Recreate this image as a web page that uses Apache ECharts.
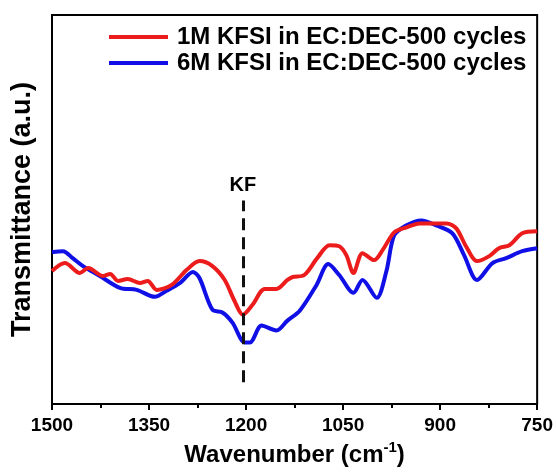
<!DOCTYPE html>
<html>
<head>
<meta charset="utf-8">
<script src="https://cdn.jsdelivr.net/npm/echarts@6/dist/echarts.min.js"></script>
<style>
html,body{margin:0;padding:0;background:#fff;}
#chart{width:556px;height:475px;}
</style>
</head>
<body>
<div id="chart"></div>
<script>
// Wavenumber (cm^-1) and transmittance (a.u.)
var seriesNames = ['1M KFSI in EC:DEC-500 cycles', '6M KFSI in EC:DEC-500 cycles'];
var xTicks = [1500, 1350, 1200, 1050, 900, 750];
var kfPosition = 1205;
var kfRange = [22, 205];

var wnRed = [1500,1480,1457,1444,1421,1410,1398,1383,1364,1352,1338,1315,1292,1272,1252,1233,1218,1205,1190,1171,1153,1136,1128,1110,1090,1071,1056,1045,1034,1020,1002,989,971,952,932,912,890,875,860,843,824,809,793,773,750];
var tRed  = [134,142,132,137,129,131,124,126,122,124,115,120,135,144,139,125,104,90,100,116,116,125,128,130,147,160,159,150,132,152,145,155,173,178,182,182,182,177,159,144,149,157,160,172,174];

var wnBlue = [1500,1483,1468,1452,1426,1395,1369,1341,1323,1302,1282,1272,1252,1236,1221,1202,1194,1176,1153,1136,1117,1091,1073,1056,1034,1020,998,983,971,952,929,906,881,863,843,819,798,773,750];
var tBlue  = [153,154,147,139,129,117,115,108,114,122,133,127,95,92,82,62,62,79,74,84,94,120,141,130,112,125,107,134,170,180,185,180,172,150,125,142,147,154,157];

function zip(a, b) { return a.map(function (v, i) { return [v, b[i]]; }); }

var FONT = '"Liberation Sans", Arial, sans-serif';
var chart = echarts.init(document.getElementById('chart'), null, {renderer: 'canvas'});
chart.setOption({
  animation: false,
  backgroundColor: '#fff',
  grid: {left: 52, right: 18, top: 15, bottom: 68, show: true, borderColor: '#000', borderWidth: 2, backgroundColor: 'transparent'},
  legend: {
    orient: 'vertical', left: 109, top: 24, itemGap: 0, padding: 0,
    itemWidth: 59, itemHeight: 4, icon: 'rect',
    data: seriesNames,
    textStyle: {fontFamily: FONT, fontWeight: 'bold', fontSize: 24, color: '#000', lineHeight: 26, padding: [0, 0, 0, 4]}
  },
  xAxis: {
    type: 'value', inverse: true, min: 750, max: 1500, interval: 150,
    axisLine: {show: true, lineStyle: {color: '#000', width: 2}},
    axisTick: {show: true, length: 6, lineStyle: {color: '#000', width: 2}},
    minorTick: {show: true, splitNumber: 2, length: 4, lineStyle: {color: '#000', width: 2}},
    splitLine: {show: false}, minorSplitLine: {show: false},
    axisLabel: {fontFamily: FONT, fontWeight: 'bold', fontSize: 19, color: '#000', margin: 12,
      formatter: function (v) { return xTicks.indexOf(v) >= 0 ? String(v) : ''; }},
    name: 'Wavenumber (cm{sup|-1})', nameLocation: 'middle', nameGap: 36,
    nameTextStyle: {fontFamily: FONT, fontWeight: 'bold', fontSize: 24, color: '#000', lineHeight: 30,
      rich: {sup: {fontFamily: FONT, fontWeight: 'bold', fontSize: 15, color: '#000', lineHeight: 15, padding: [0, 0, 14, 0]}}}
  },
  yAxis: {
    type: 'value', min: 0, max: 392,
    axisLine: {show: true, lineStyle: {color: '#000', width: 2}},
    axisTick: {show: false}, axisLabel: {show: false}, splitLine: {show: false},
    name: 'Transmittance (a.u.)', nameLocation: 'middle', nameGap: 16,
    nameTextStyle: {fontFamily: FONT, fontWeight: 'bold', fontSize: 27, color: '#000'}
  },
  series: [
    {
      name: seriesNames[0], type: 'line', data: zip(wnRed, tRed), showSymbol: false, smooth: 0.3,
      lineStyle: {color: '#ec1c1c', width: 4}, itemStyle: {color: '#ec1c1c'}, z: 3,
      markLine: {
        silent: true, symbol: ['none', 'none'],
        lineStyle: {color: '#111', width: 3, type: [12, 7]},
        label: {show: true, position: 'end', formatter: 'KF', fontFamily: FONT, fontWeight: 'bold', fontSize: 20, color: '#000', distance: 5},
        data: [[{coord: [kfPosition, kfRange[0]]}, {coord: [kfPosition, kfRange[1]]}]]
      }
    },
    {
      name: seriesNames[1], type: 'line', data: zip(wnBlue, tBlue), showSymbol: false, smooth: 0.3,
      lineStyle: {color: '#1010e6', width: 4}, itemStyle: {color: '#1010e6'}, z: 2
    }
  ]
});
</script>
</body>
</html>
